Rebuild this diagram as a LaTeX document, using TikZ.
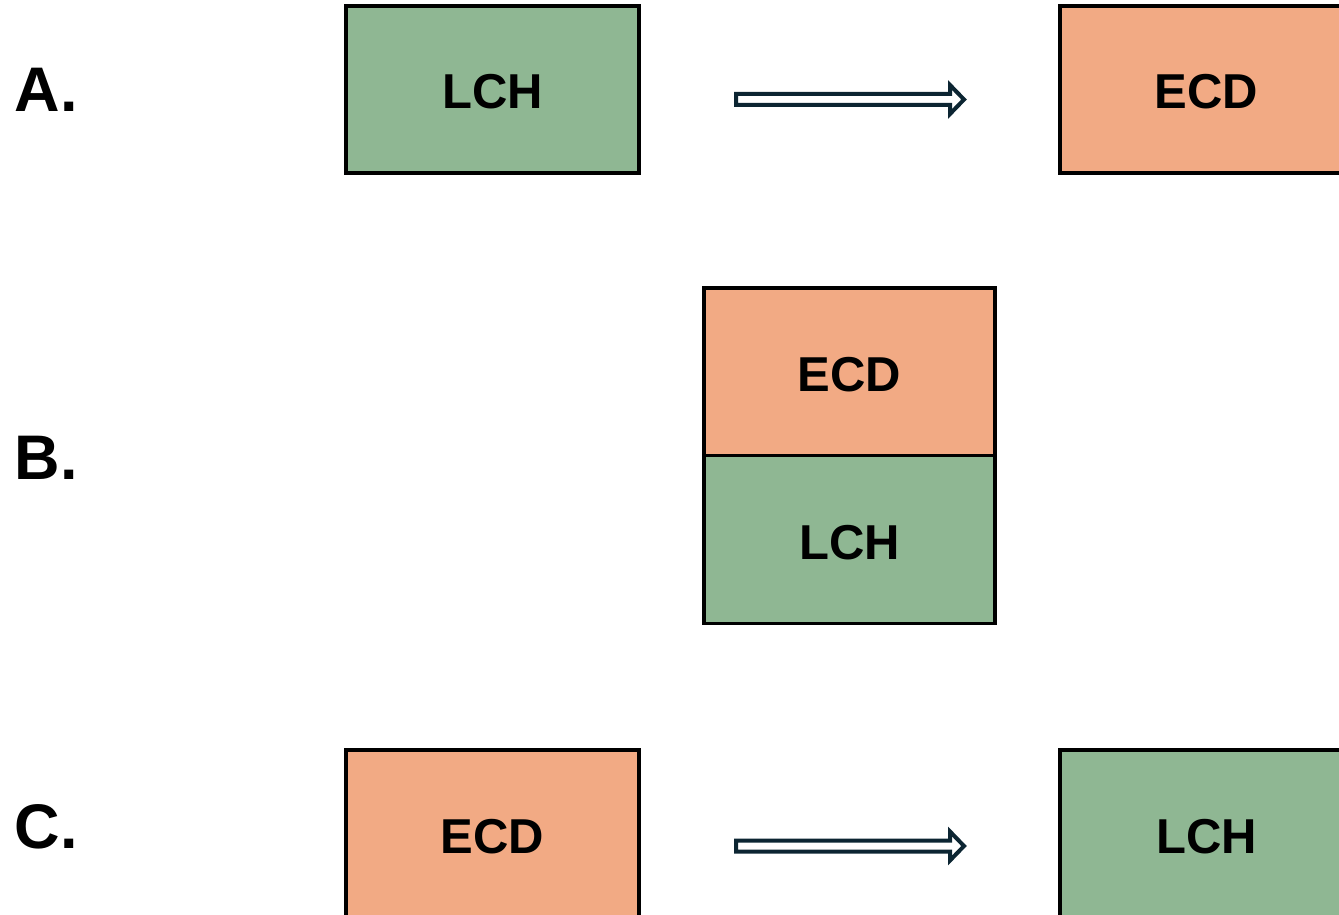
\documentclass[tikz,border=0pt]{standalone}
\usepackage{fontspec}
\setmainfont{Liberation Sans}
\definecolor{lchgreen}{RGB}{143,183,147}
\definecolor{ecdorange}{RGB}{242,170,132}
\definecolor{arrownavy}{RGB}{12,37,50}
\begin{document}
\begin{tikzpicture}[x=1pt,y=-1pt,
  box/.style={draw=black,line width=3.5pt,inner sep=0pt,text height=39pt,text depth=0pt,
    font=\fontsize{49}{49}\selectfont\bfseries},
  lchbox/.style={box,fill=lchgreen},
  ecdbox/.style={box,fill=ecdorange},
  panel/.style={anchor=base west,inner sep=0pt,
    font=\fontsize{63}{63}\selectfont\bfseries},
  blockarrow/.style={draw=arrownavy,line width=4pt,fill=white,line join=miter}]
\useasboundingbox (0,0) rectangle (1339,915);
\clip (0,0) rectangle (1339,915);
% panel labels
\node[panel] (labA) at (14.5,112) {A.};
\node[panel] (labB) at (14.5,479) {B.};
\node[panel] (labC) at (14.5,848) {C.};
% row A
\node[lchbox,minimum width=293pt,minimum height=167pt] (a1) at (492.5,89.5) {LCH};
\node[ecdbox,minimum width=293pt,minimum height=167pt] (a2) at (1206.5,89.5) {ECD};
% row B
\node[ecdbox,minimum width=291pt,minimum height=167.5pt] (b1) at (849.5,371.75) {ECD};
\node[lchbox,minimum width=291pt,minimum height=168pt] (b2) at (849.5,539.5) {LCH};
% row C
\node[ecdbox,minimum width=293pt,minimum height=167pt] (c1) at (492.5,833.5) {ECD};
\node[lchbox,minimum width=293pt,minimum height=167pt] (c2) at (1206.5,833.5) {LCH};
% block arrows
\foreach \yy in {99.5,846}{
  \draw[blockarrow] (736,{\yy-5.5}) -- (950,{\yy-5.5}) -- (950,{\yy-14.5}) -- (964,\yy)
    -- (950,{\yy+14.5}) -- (950,{\yy+5.5}) -- (736,{\yy+5.5}) -- cycle;
}
\end{tikzpicture}
\end{document}
